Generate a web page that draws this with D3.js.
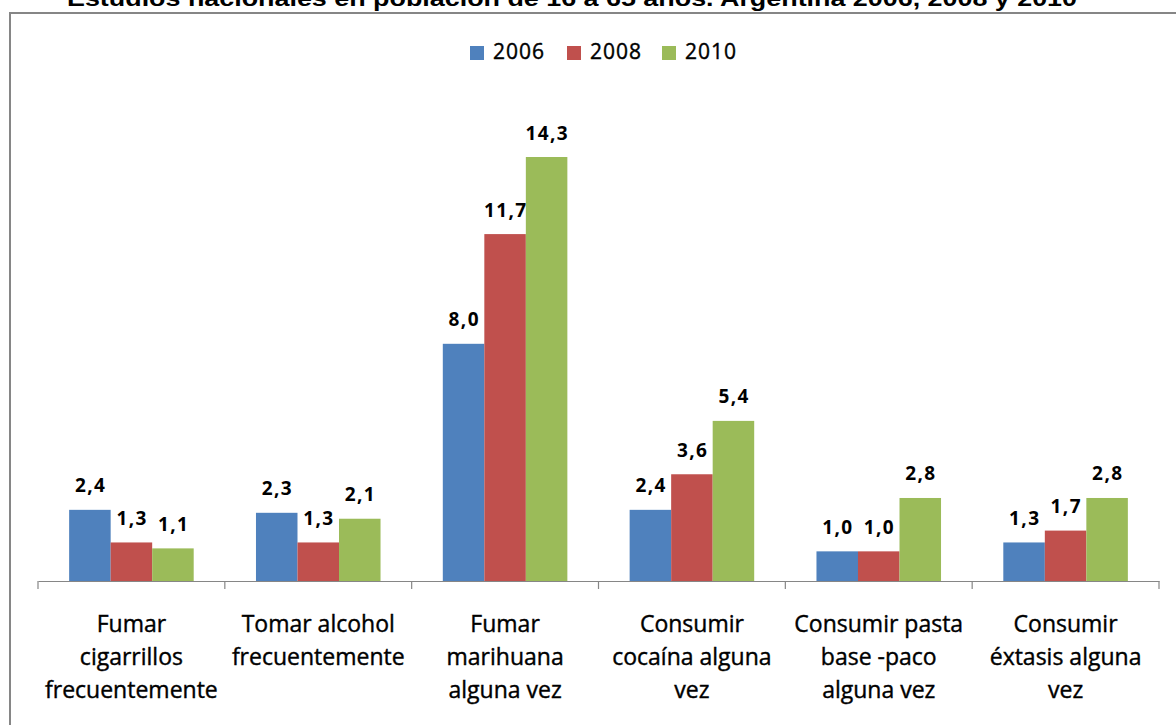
<!DOCTYPE html>
<html>
<head>
<meta charset="utf-8">
<script src="https://cdn.jsdelivr.net/npm/d3@7"></script>
<style>
  html, body { margin: 0; padding: 0; background: #ffffff; }
  svg { display: block; }
</style>
</head>
<body>
<svg id="chart" width="1176" height="725"></svg>
<script>
// ---- data ----
const titleText = "Estudios nacionales en población de 16 a 65 años. Argentina  2006, 2008 y 2010";
const categories = [
  ["Fumar", "cigarrillos", "frecuentemente"],
  ["Tomar alcohol", "frecuentemente"],
  ["Fumar", "marihuana", "alguna vez"],
  ["Consumir", "cocaína alguna", "vez"],
  ["Consumir pasta", "base -paco", "alguna vez"],
  ["Consumir", "éxtasis alguna", "vez"]
];
const seriesNames = ["2006", "2008", "2010"];
const values2006 = [2.4, 2.3, 8.0, 2.4, 1.0, 1.3];
const values2008 = [1.3, 1.3, 11.7, 3.6, 1.0, 1.7];
const values2010 = [1.1, 2.1, 14.3, 5.4, 2.8, 2.8];
const seriesColors = ["#4F81BD", "#C0504D", "#9BBB59"];

const seriesValues = [values2006, values2008, values2010];
const catKeys = categories.map(c => c.join(" "));

const svg = d3.select("#chart");

// frame
svg.append("rect")
  .attr("x", 10).attr("y", 13)
  .attr("width", 1200).attr("height", 760)
  .attr("fill", "none")
  .attr("stroke", "#868686")
  .attr("stroke-width", 2);

// title (partially cropped at top in the reference)
svg.append("text")
  .attr("x", 67).attr("y", 6)
  .attr("font-family", "Liberation Sans, Arial, sans-serif")
  .attr("font-weight", "bold")
  .attr("font-size", 22)
  .attr("textLength", 1010)
  .attr("lengthAdjust", "spacingAndGlyphs")
  .attr("fill", "#000")
  .text(titleText);

// scales
const x = d3.scaleBand().domain(catKeys).range([38, 1159]).paddingInner(0).paddingOuter(0);
const y = d3.scaleLinear().domain([0, 16]).range([581, 581 - 16 * 29.65]);
const barW = x.bandwidth() / 4.5;
const sub = d3.scaleBand().domain(seriesNames)
  .range([barW * 0.75, barW * 3.75]).paddingInner(0).paddingOuter(0);

// bars
const groups = svg.append("g").selectAll("g")
  .data(catKeys)
  .join("g")
  .attr("transform", d => `translate(${x(d)},0)`);

groups.selectAll("rect")
  .data((d, i) => seriesNames.map((s, j) => ({ s, j, v: seriesValues[j][i] })))
  .join("rect")
  .attr("x", d => sub(d.s))
  .attr("width", sub.bandwidth())
  .attr("y", d => y(d.v))
  .attr("height", d => y(0) - y(d.v))
  .attr("fill", d => seriesColors[d.j]);

groups.selectAll("text.val")
  .data((d, i) => seriesNames.map((s, j) => ({ s, j, v: seriesValues[j][i] })))
  .join("text")
  .attr("class", "val")
  .attr("x", d => sub(d.s) + sub.bandwidth() / 2 + 0.7)
  .attr("y", d => y(d.v) - 17.5)
  .attr("text-anchor", "middle")
  .attr("font-family", "Open Sans, sans-serif")
  .attr("font-weight", "bold")
  .attr("font-size", 19)
  .attr("letter-spacing", 1.4)
  .attr("fill", "#000")
  .text(d => d3.format(".1f")(d.v).replace(".", ","));

// x axis
const xAxis = d3.axisBottom(x).tickSize(0).tickFormat("");
const axG = svg.append("g").attr("transform", `translate(0,${y(0)})`).call(xAxis);
axG.select(".domain").attr("stroke", "#868686").attr("stroke-width", 1.2);
// boundary ticks
const bounds = catKeys.map(k => x(k)).concat([x.range()[1]]);
axG.selectAll("line.bt")
  .data(bounds)
  .join("line")
  .attr("class", "bt")
  .attr("x1", d => d).attr("x2", d => d)
  .attr("y1", 0).attr("y2", 8)
  .attr("stroke", "#868686").attr("stroke-width", 1.2);

// category labels
const lineBase = [632, 665, 698];
const catG = svg.append("g");
categories.forEach((lines, i) => {
  const cx = x(catKeys[i]) + x.bandwidth() / 2;
  lines.forEach((ln, k) => {
    catG.append("text")
      .attr("x", cx).attr("y", lineBase[k])
      .attr("text-anchor", "middle")
      .attr("font-family", "Open Sans, sans-serif")
      .attr("font-size", 23)
      .attr("fill", "#000")
      .attr("stroke", "#000")
      .attr("stroke-width", 0.4)
      .text(ln);
  });
});

// legend
const legendX = [470, 567, 662];
const leg = svg.append("g");
seriesNames.forEach((s, j) => {
  leg.append("rect")
    .attr("x", legendX[j]).attr("y", 46)
    .attr("width", 14).attr("height", 14)
    .attr("fill", seriesColors[j]);
  leg.append("text")
    .attr("x", legendX[j] + 23).attr("y", 59)
    .attr("font-family", "Open Sans, sans-serif")
    .attr("font-size", 21)
    .attr("letter-spacing", 1)
    .attr("fill", "#000")
    .attr("stroke", "#000")
    .attr("stroke-width", 0.4)
    .text(s);
});
</script>
</body>
</html>
